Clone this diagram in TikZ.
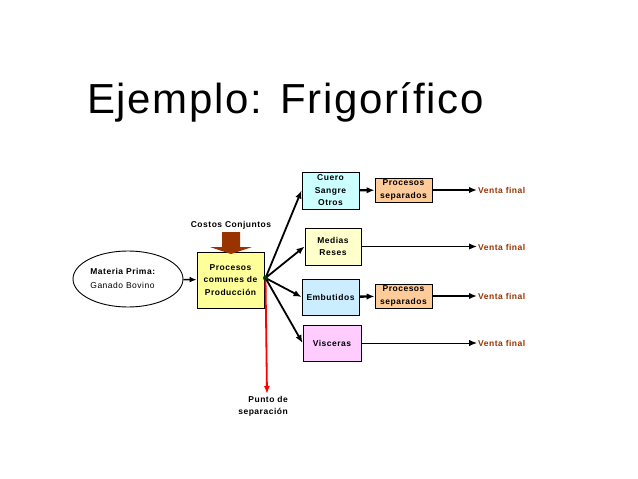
\documentclass[tikz,border=0pt]{standalone}
\usepackage{fontspec}
\setmainfont{Liberation Sans}
\newfontfamily\titlefont[LetterSpace=4]{Liberation Sans}
\newfontfamily\smallfont[LetterSpace=6]{Liberation Sans}
\usetikzlibrary{shapes.geometric,arrows.meta}
\definecolor{cafe}{RGB}{153,51,0}
\definecolor{amarillo}{RGB}{255,255,153}
\definecolor{amarillop}{RGB}{255,255,204}
\definecolor{celeste}{RGB}{204,255,255}
\definecolor{azulp}{RGB}{204,236,255}
\definecolor{naranja}{RGB}{255,204,153}
\definecolor{rosa}{RGB}{255,204,255}
\definecolor{verdeo}{RGB}{0,60,0}
\tikzset{
  caja/.style={draw,line width=0.9pt,align=center,inner sep=1pt,
    font=\smallfont\fontsize{8.5}{12.5}\selectfont\bfseries},
  venta/.style={anchor=west,inner sep=1pt,text=cafe,
    font=\smallfont\fontsize{8.5}{10}\selectfont\bfseries},
  flecha/.style={-{Latex[length=8pt,width=6.5pt]},line width=1.8pt}
}
\begin{document}
\begin{tikzpicture}[x=1pt,y=-1pt]
  \useasboundingbox (0,0) rectangle (638,479);
  \node[anchor=base west,inner sep=0,font=\titlefont\fontsize{42}{42}\selectfont]
    (titulo) at (87,113) {Ejemplo: Frigorífico};
  % materia prima y proceso comun
  \node[ellipse,draw,line width=0.9pt,minimum width=110pt,minimum height=56pt]
    (materia) at (128,279) {};
  \node[align=left,inner sep=0,font=\smallfont\fontsize{8.5}{14}\selectfont]
    (materiatxt) at (123,278) {\textbf{Materia Prima:}\\Ganado Bovino};
  \node[caja,fill=amarillo,minimum width=67pt,minimum height=56pt] (comun)
    at (230.5,280) {Procesos\\comunes de\\Producción};
  \node[font=\smallfont\fontsize{8.5}{10}\selectfont\bfseries,inner sep=1pt]
    (costos) at (231,225) {Costos Conjuntos};
  \fill[cafe] (222,232) -- (240,232) -- (240,247) -- (252,247) -- (231,254)
    -- (210,247) -- (222,247) -- cycle;
  % productos
  \node[caja,fill=celeste,minimum width=57pt,minimum height=37pt] (cuero)
    at (330.5,190.5) {Cuero\\Sangre\\Otros};
  \node[caja,fill=amarillop,minimum width=56pt,minimum height=37pt] (medias)
    at (333,246.5) {Medias\\Reses};
  \node[caja,fill=azulp,minimum width=57pt,minimum height=36pt] (embutidos)
    at (330.5,297) {Embutidos};
  \node[caja,fill=rosa,minimum width=58pt,minimum height=36pt] (visceras)
    at (332,343) {Visceras};
  \node[caja,fill=naranja,minimum width=57pt,minimum height=24pt] (sep1)
    at (403.5,190) {Procesos\\separados};
  \node[caja,fill=naranja,minimum width=57pt,minimum height=24pt] (sep2)
    at (403.5,296) {Procesos\\separados};
  \node[venta] (venta1) at (477,190) {Venta final};
  \node[venta] (venta2) at (477,247) {Venta final};
  \node[venta] (venta3) at (477,296) {Venta final};
  \node[venta] (venta4) at (477,343) {Venta final};
  % conectores
  \coordinate (hub) at (265.5,278);
  \coordinate (punto) at (267,394);
  \draw[-{Latex[length=7pt,width=6pt]},line width=1.4pt] (materia) -- (comun);
  \draw[red,line width=1.8pt,-{Latex[length=8pt,width=6pt]}] (hub) -- (punto);
  \node[anchor=north east,align=right,inner sep=1pt,
    font=\smallfont\fontsize{8.5}{12.5}\selectfont\bfseries] (sepnote)
    at (289,395) {Punto de\\separación};
  \draw[flecha] (hub) -- (cuero.west);
  \draw[flecha] (hub) -- (medias.west);
  \draw[flecha] (hub) -- (embutidos.west);
  \draw[flecha] (hub) -- (visceras.west);
  \fill[verdeo] (hub) circle (2.5pt);
  \draw[flecha,line width=2.4pt] (cuero) -- (sep1);
  \draw[flecha,line width=2.4pt] (embutidos) -- (sep2);
  \draw[flecha] (sep1) -- (venta1);
  \draw[flecha,line width=1.5pt] (medias) -- (medias -| venta2.west);
  \draw[flecha] (sep2) -- (venta3);
  \draw[flecha,line width=1pt] (visceras) -- (visceras -| venta4.west);
\end{tikzpicture}
\end{document}
